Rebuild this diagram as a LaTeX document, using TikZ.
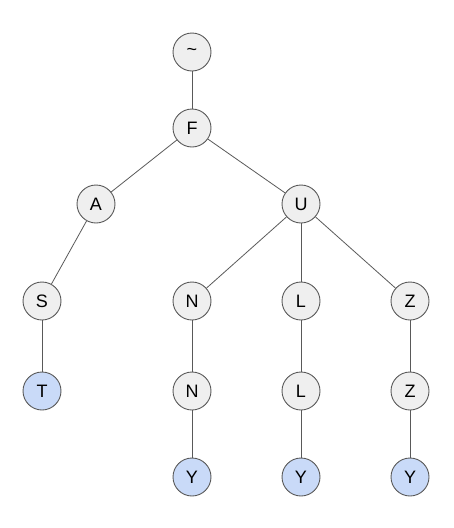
\documentclass[tikz,border=0pt]{standalone}
\usepackage{fontspec}
\setmainfont{Liberation Sans}
\usepackage{tikz}
\usetikzlibrary{positioning}
\definecolor{ring}{HTML}{595959}
\definecolor{greyfill}{HTML}{EFEFEF}
\definecolor{bluefill}{HTML}{C9DAF8}

\begin{document}
\begin{tikzpicture}[x=1pt, y=-1pt,
  every node/.style={font=\fontsize{18}{20}\selectfont},
  vert/.style={circle, draw=ring, line width=0.9pt, fill=greyfill, minimum size=38pt, inner sep=0pt},
  leaf/.style={vert, fill=bluefill},
  line width=0.8pt
]
  \useasboundingbox (0,0) rectangle (453,528);
  \node[vert] (root) at (192,52) {\raisebox{-0.3ex}{\textasciitilde}};
  \node[vert] (F) at (192,128) {F};
  \node[vert] (A) at (96,204) {A};
  \node[vert] (U) at (301,204) {U};
  \node[vert] (S) at (42,301) {S};
  \node[vert] (N1) at (192,301) {N};
  \node[vert] (L1) at (301,301) {L};
  \node[vert] (Z1) at (410,301) {Z};
  \node[leaf] (T) at (42,391) {T};
  \node[vert] (N2) at (192,391) {N};
  \node[vert] (L2) at (301,391) {L};
  \node[vert] (Z2) at (410,391) {Z};
  \node[leaf] (Y1) at (192,477) {Y};
  \node[leaf] (Y2) at (301,477) {Y};
  \node[leaf] (Y3) at (410,477) {Y};
  \draw[ring] (root) -- (F);
  \draw[ring] (F) -- (A);
  \draw[ring] (F) -- (U);
  \draw[ring] (A) -- (S);
  \draw[ring] (S) -- (T);
  \draw[ring] (U) -- (N1);
  \draw[ring] (U) -- (L1);
  \draw[ring] (U) -- (Z1);
  \draw[ring] (N1) -- (N2);
  \draw[ring] (L1) -- (L2);
  \draw[ring] (Z1) -- (Z2);
  \draw[ring] (N2) -- (Y1);
  \draw[ring] (L2) -- (Y2);
  \draw[ring] (Z2) -- (Y3);
\end{tikzpicture}
\end{document}
